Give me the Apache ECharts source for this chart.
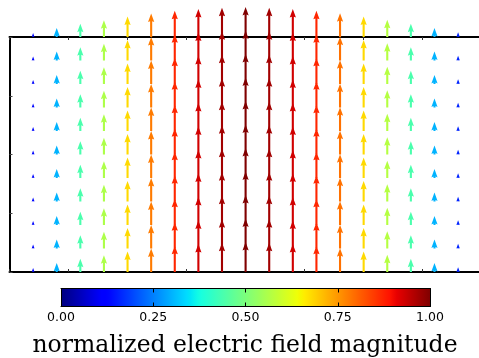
<!DOCTYPE html>
<html>
<head>
<meta charset="utf-8">
<script src="https://cdn.jsdelivr.net/npm/echarts@6/dist/echarts.min.js"></script>
<style>html,body{margin:0;padding:0;background:#fff;}#c{width:479px;height:358px;}</style>
</head>
<body>
<div id="c"></div>
<script>
// ---- data ----
const xColumns = [1, 2, 3, 4, 5, 6, 7, 8, 9, 10, 11, 12, 13, 14, 15, 16, 17, 18, 19];
const yRows = [0, 1, 2, 3, 4, 5, 6, 7, 8, 9, 10];
const magnitudes = [0.13, 0.30, 0.44, 0.56, 0.68, 0.78, 0.87, 0.93, 0.97, 1.00, 0.97, 0.93, 0.87, 0.79, 0.68, 0.57, 0.44, 0.30, 0.16];
const colorbarTicks = [0, 0.25, 0.5, 0.75, 1];
const colorbarLabel = 'normalized electric field magnitude';

// jet colormap (matplotlib definition)
function interp(t, pts) {
  for (let i = 1; i < pts.length; i++) {
    if (t <= pts[i][0]) {
      const a = pts[i - 1], b = pts[i];
      return a[1] + (b[1] - a[1]) * (t - a[0]) / (b[0] - a[0]);
    }
  }
  return pts[pts.length - 1][1];
}
function jet(t) {
  const r = interp(t, [[0, 0], [0.35, 0], [0.66, 1], [0.89, 1], [1, 0.5]]);
  const g = interp(t, [[0, 0], [0.125, 0], [0.375, 1], [0.64, 1], [0.91, 0], [1, 0]]);
  const b = interp(t, [[0, 0.5], [0.11, 1], [0.34, 1], [0.65, 0], [1, 0]]);
  const h = v => Math.round(v * 255).toString(16).padStart(2, '0');
  return '#' + h(r) + h(g) + h(b);
}
const jetColors = [];
for (let i = 0; i <= 100; i++) jetColors.push(jet(i / 100));

const arrowData = [];
yRows.forEach(y => xColumns.forEach((x, i) => arrowData.push([x, y, magnitudes[i]])));

const ARROW_SCALE = 1.28; // data units (y) per unit magnitude

const chart = echarts.init(document.getElementById('c'), null, {renderer: 'canvas'});
const font = 'DejaVu Sans';

chart.setOption({
  animation: false,
  backgroundColor: '#fff',
  grid: [
    {left: 9.5, top: 37, width: 472.2, height: 235, show: false, containLabel: false, outerBoundsMode: 'none'},
    {left: 61, top: 288.5, width: 369, height: 18, show: false, containLabel: false, outerBoundsMode: 'none'}
  ],
  xAxis: [
    {gridIndex: 0, type: 'value', min: 0, max: 20, interval: 2.5, position: 'bottom', z: 1,
     axisLine: {show: true, onZero: false, lineStyle: {color: '#000', width: 2}},
     axisTick: {show: true, inside: true, length: 3, lineStyle: {color: '#333'}},
     axisLabel: {show: false}, splitLine: {show: false}},
    {gridIndex: 0, type: 'value', min: 0, max: 20, interval: 2.5, position: 'top', z: 1,
     axisLine: {show: true, onZero: false, lineStyle: {color: '#000', width: 2}},
     axisTick: {show: true, inside: true, length: 3, lineStyle: {color: '#333'}},
     axisLabel: {show: false}, splitLine: {show: false}},
    {gridIndex: 1, type: 'value', min: 0, max: 1, interval: 0.25, position: 'bottom', z: 5,
     axisLine: {show: true, onZero: false, lineStyle: {color: '#000', width: 1}},
     axisTick: {show: true, inside: true, length: 4, lineStyle: {color: '#000'}},
     axisLabel: {show: true, margin: 5, color: '#000', fontFamily: font, fontSize: 12.5,
                 formatter: v => v.toFixed(2), showMinLabel: true, showMaxLabel: true},
     splitLine: {show: false}},
    {gridIndex: 1, type: 'value', min: 0, max: 1, interval: 0.25, position: 'top', z: 5,
     axisLine: {show: true, onZero: false, lineStyle: {color: '#000', width: 1}},
     axisTick: {show: true, inside: true, length: 4, lineStyle: {color: '#000'}},
     axisLabel: {show: false}, splitLine: {show: false}}
  ],
  yAxis: [
    {gridIndex: 0, type: 'value', min: 0, max: 10, interval: 2.5, position: 'left', z: 1,
     axisLine: {show: true, onZero: false, lineStyle: {color: '#000', width: 2}},
     axisTick: {show: true, inside: true, length: 3, lineStyle: {color: '#444'}},
     axisLabel: {show: false}, splitLine: {show: false}},
    {gridIndex: 0, type: 'value', min: 0, max: 10, interval: 2.5, position: 'right', z: 1,
     axisLine: {show: true, onZero: false, lineStyle: {color: '#000', width: 2}},
     axisTick: {show: false}, axisLabel: {show: false}, splitLine: {show: false}},
    {gridIndex: 1, type: 'value', min: 0, max: 1, position: 'left', z: 5,
     axisLine: {show: true, onZero: false, lineStyle: {color: '#000', width: 1}},
     axisTick: {show: false}, axisLabel: {show: false}, splitLine: {show: false}},
    {gridIndex: 1, type: 'value', min: 0, max: 1, position: 'right', z: 5,
     axisLine: {show: true, onZero: false, lineStyle: {color: '#000', width: 1}},
     axisTick: {show: false}, axisLabel: {show: false}, splitLine: {show: false}}
  ],
  visualMap: {
    show: false, type: 'continuous', seriesIndex: 0, dimension: 2, min: 0, max: 1,
    inRange: {color: jetColors}
  },
  series: [
    {
      type: 'custom', xAxisIndex: 0, yAxisIndex: 0, z: 3, clip: false,
      data: arrowData,
      renderItem: function (params, api) {
        const x = api.value(0), y = api.value(1), m = api.value(2);
        const tail = api.coord([x, y]);
        const tip = api.coord([x, y + m * ARROW_SCALE]);
        const L = tail[1] - tip[1];
        let w = 2.1, hw = 6.2, hl = 8.5, hal = 7.6;
        if (L < hl) { const s = L / hl; w *= s; hw *= s; hl *= s; hal *= s; }
        const cx = tail[0], ty = tip[1], by = tail[1];
        return {
          type: 'polygon',
          shape: {points: [
            [cx - w / 2, by], [cx - w / 2, ty + hal], [cx - hw / 2, ty + hl], [cx, ty],
            [cx + hw / 2, ty + hl], [cx + w / 2, ty + hal], [cx + w / 2, by]
          ]},
          style: {fill: api.visual('color'), stroke: null}
        };
      }
    },
    {
      type: 'custom', xAxisIndex: 2, yAxisIndex: 2, z: 2,
      data: [[0, 1]],
      renderItem: function (params, api) {
        const p0 = api.coord([api.value(0), 1]);
        const p1 = api.coord([api.value(1), 0]);
        const stops = jetColors.map((c, i) => ({offset: i / 100, color: c}));
        return {
          type: 'rect',
          shape: {x: p0[0], y: p0[1], width: p1[0] - p0[0], height: p1[1] - p0[1]},
          style: {fill: new echarts.graphic.LinearGradient(0, 0, 1, 0, stops)}
        };
      }
    }
  ],
  graphic: [{
    type: 'text', x: 245, y: 346,
    style: {text: colorbarLabel, font: '23.5px "DejaVu Serif"', fill: '#000', align: 'center', verticalAlign: 'middle'}
  }]
});
</script>
</body>
</html>
